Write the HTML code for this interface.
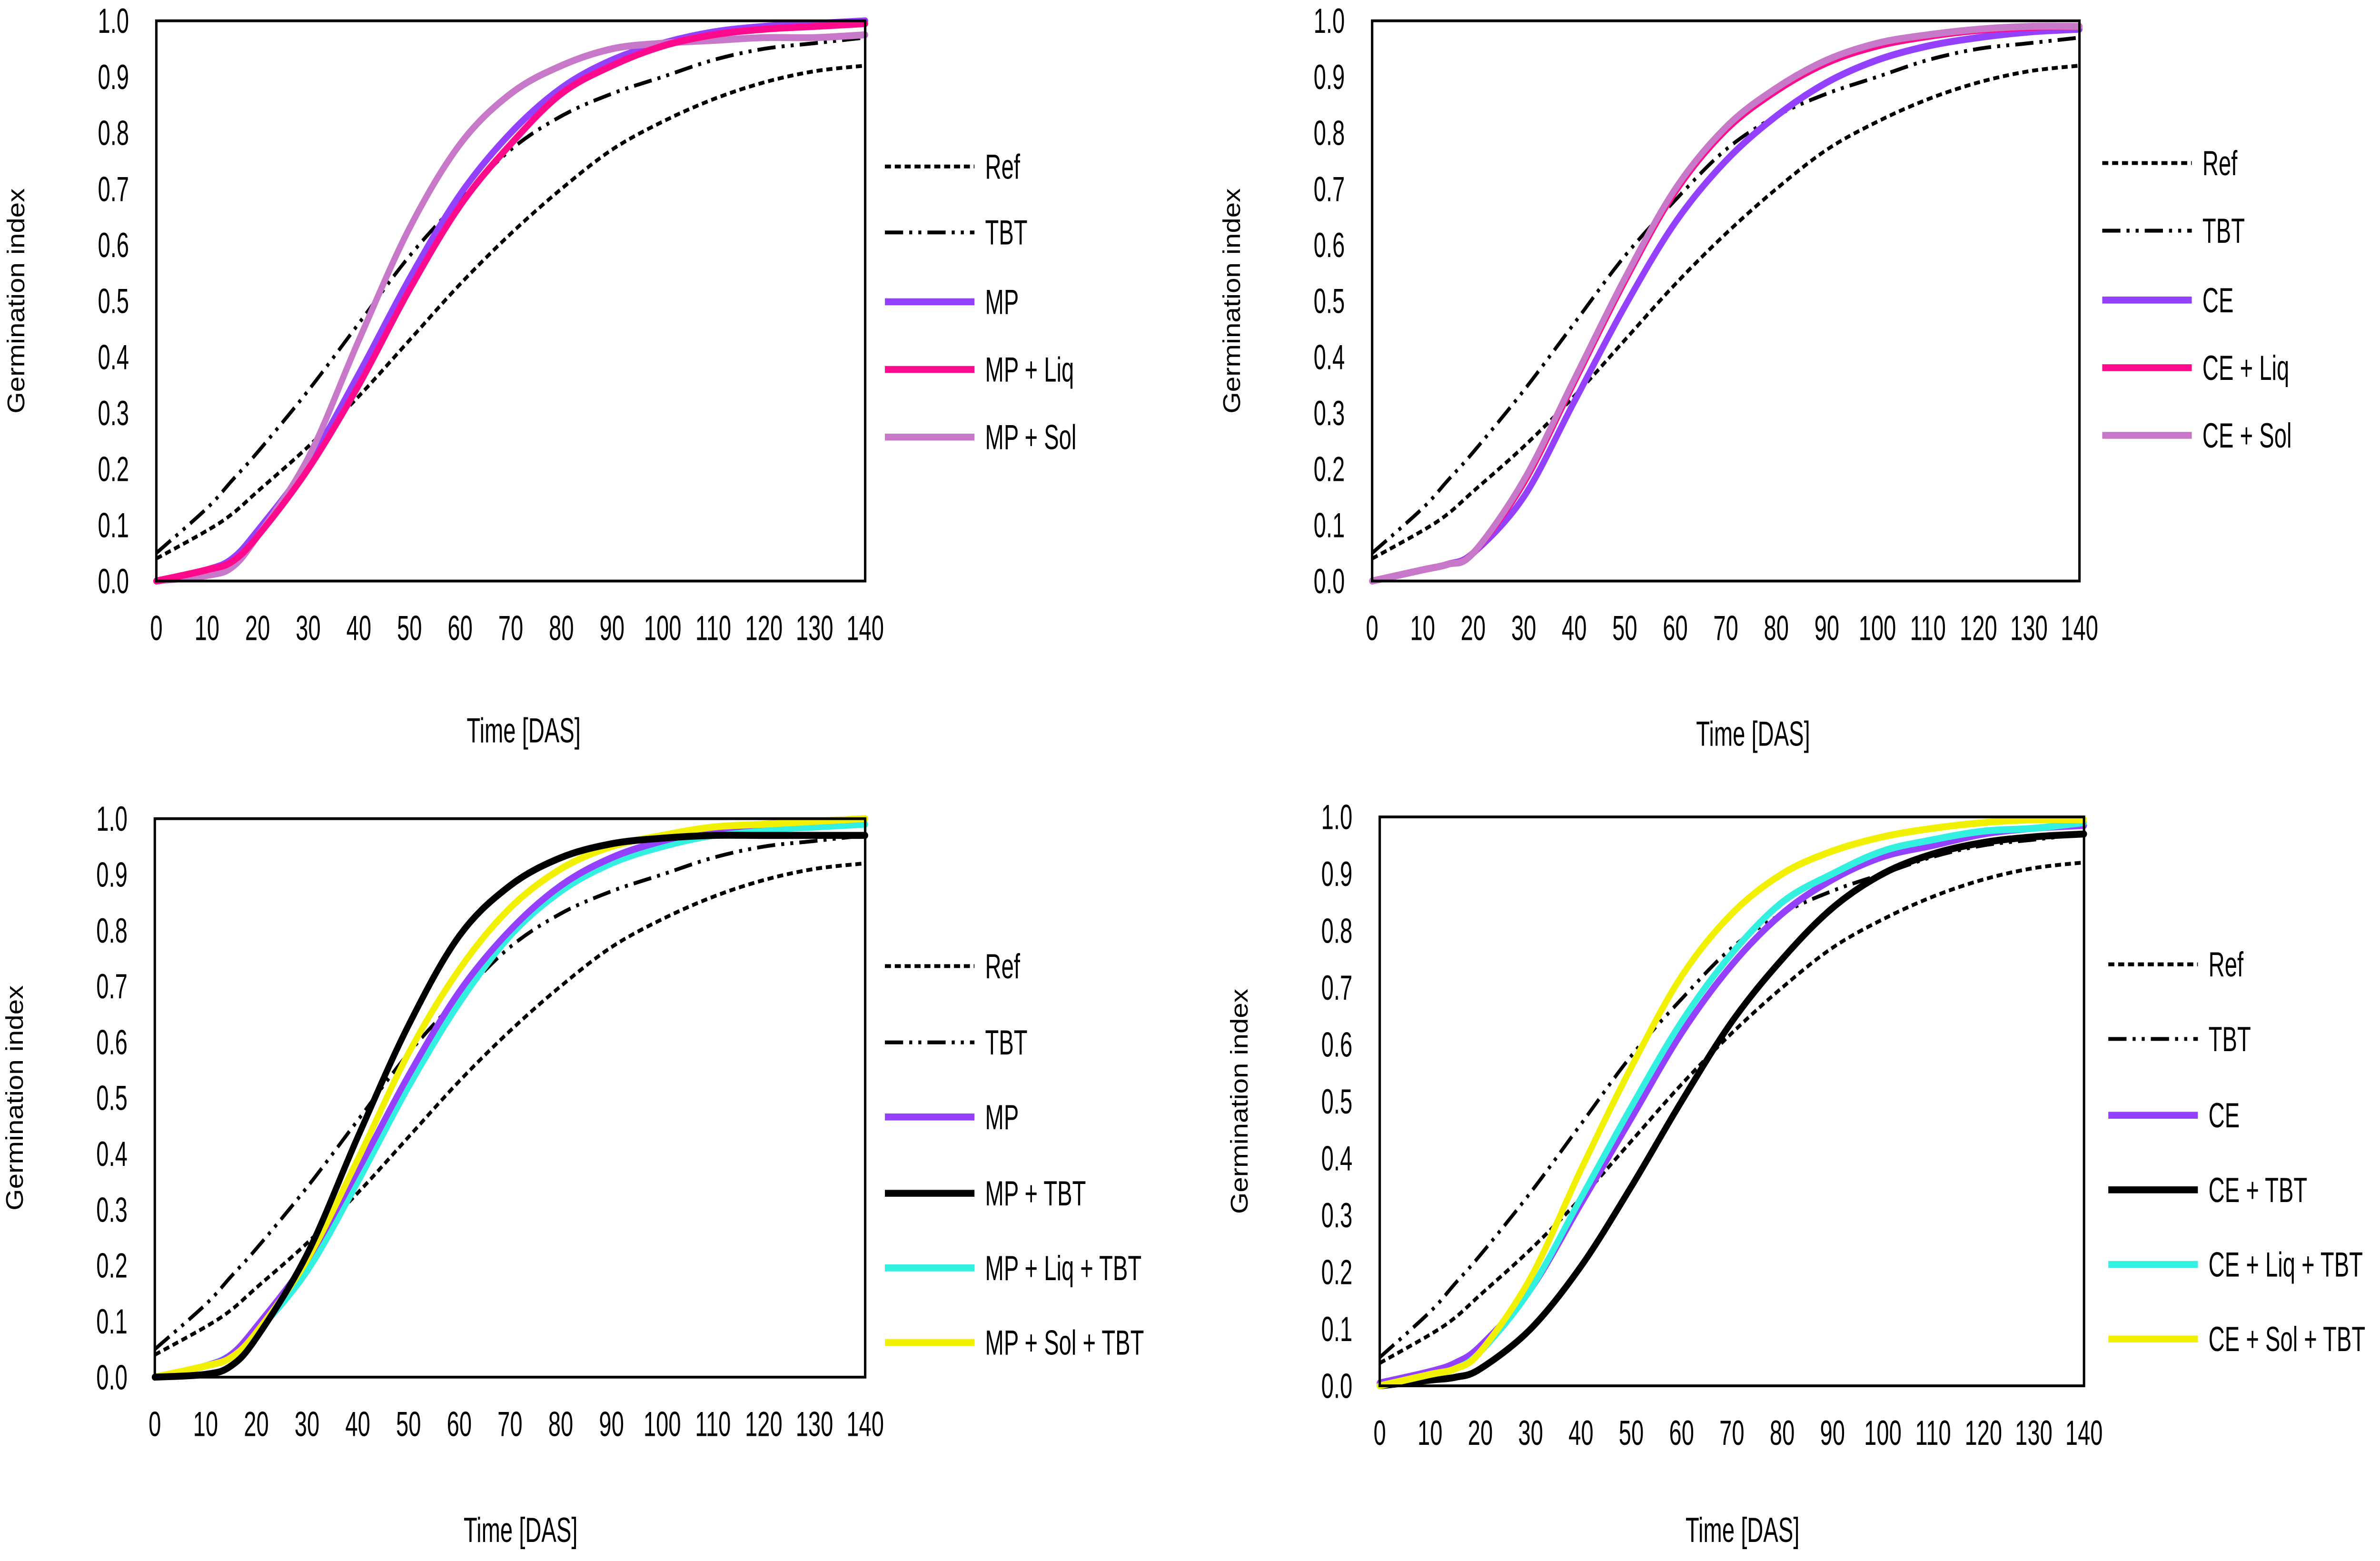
<!DOCTYPE html>
<html><head><meta charset="utf-8"><style>
html,body{margin:0;padding:0;background:#fff;width:100%;height:100%;overflow:hidden;}
svg{display:block;position:absolute;left:0;top:0;width:100vw;height:100vh;}
text{font-family:"Liberation Sans Narrow","Liberation Sans",sans-serif;fill:#000;}
</style></head><body>
<svg id="fig" viewBox="0 0 1568 900" preserveAspectRatio="none" xmlns="http://www.w3.org/2000/svg"></svg>
<script>
const days = [0,10,15,20,30,40,50,60,70,80,90,100,110,120,130,140];
const xTicks = [0,10,20,30,40,50,60,70,80,90,100,110,120,130,140];
const yTicks = [0,0.1,0.2,0.3,0.4,0.5,0.6,0.7,0.8,0.9,1.0];
const refVals = [0.04,0.09,0.12,0.16,0.24,0.33,0.43,0.53,0.62,0.70,0.77,0.82,0.86,0.89,0.91,0.92];
const tbtVals = [0.05,0.13,0.18,0.23,0.34,0.46,0.58,0.68,0.77,0.83,0.87,0.90,0.93,0.95,0.96,0.97];
const mpVals = [0,0.02,0.04,0.09,0.21,0.37,0.54,0.69,0.80,0.88,0.93,0.96,0.98,0.99,0.995,1.0];
const mpLiqVals = [0,0.02,0.035,0.08,0.20,0.35,0.52,0.67,0.78,0.87,0.92,0.955,0.975,0.985,0.99,0.995];
const mpSolVals = [0,0.01,0.025,0.08,0.22,0.43,0.63,0.78,0.87,0.92,0.95,0.96,0.965,0.97,0.97,0.975];
const ceVals = [0,0.02,0.03,0.05,0.15,0.32,0.49,0.64,0.75,0.83,0.89,0.93,0.955,0.97,0.98,0.985];
const ceLiqVals = [0,0.02,0.03,0.05,0.175,0.355,0.535,0.695,0.805,0.875,0.925,0.955,0.972,0.983,0.988,0.99];
const ceSolVals = [0,0.02,0.03,0.05,0.18,0.36,0.54,0.70,0.81,0.88,0.93,0.96,0.975,0.985,0.99,0.99];
const mpTbtVals = [0,0.005,0.02,0.07,0.22,0.43,0.63,0.79,0.88,0.93,0.955,0.965,0.97,0.97,0.97,0.97];
const mpLiqTbtVals = [0,0.02,0.04,0.08,0.19,0.35,0.52,0.67,0.79,0.87,0.92,0.95,0.97,0.98,0.985,0.99];
const mpSolTbtVals = [0,0.02,0.035,0.08,0.21,0.39,0.58,0.73,0.84,0.91,0.95,0.97,0.985,0.99,0.995,1.0];
const ce2Vals = [0.005,0.025,0.04,0.07,0.17,0.32,0.47,0.62,0.74,0.83,0.89,0.93,0.95,0.97,0.98,0.985];
const ceTbtVals = [0,0.01,0.015,0.03,0.10,0.21,0.35,0.50,0.64,0.75,0.84,0.90,0.935,0.955,0.965,0.97];
const ceLiqTbtVals = [0,0.02,0.03,0.06,0.17,0.33,0.49,0.64,0.76,0.85,0.90,0.94,0.96,0.975,0.98,0.99];
const ceSolTbtVals = [0,0.02,0.03,0.06,0.19,0.38,0.56,0.72,0.83,0.90,0.94,0.965,0.98,0.99,0.995,0.995];

const ST = {
 ref:{stroke:"#000",w:2.2,dash:"4,2.5"},
 tbt:{stroke:"#000",w:2.2,dash:"12,4,2,4,2,4"},
 purple:{stroke:"#9440ff",w:4},
 pink:{stroke:"#ff0a8c",w:4},
 orchid:{stroke:"#c878c8",w:4},
 black:{stroke:"#000",w:4},
 cyan:{stroke:"#33f0e0",w:4},
 yellow:{stroke:"#f2f200",w:4}
};
const panels = [
 {id:"top-left",x0:103,x1:570,y0:12,y1:335,lgX:583,title:[345,421],
  series:[["Ref",refVals,"ref"],["TBT",tbtVals,"tbt"],["MP",mpVals,"purple"],["MP + Liq",mpLiqVals,"pink"],["MP + Sol",mpSolVals,"orchid"]],
  draw:[0,1,2,4,3], lgY:[96,134,174,213,252]},
 {id:"top-right",x0:904,x1:1370,y0:12,y1:335,lgX:1385,title:[1155,423],
  series:[["Ref",refVals,"ref"],["TBT",tbtVals,"tbt"],["CE",ceVals,"purple"],["CE + Liq",ceLiqVals,"pink"],["CE + Sol",ceSolVals,"orchid"]],
  draw:[0,1,2,3,4], lgY:[94,133,173,212,251]},
 {id:"bottom-left",x0:102,x1:570,y0:472,y1:794,lgX:583,title:[343,882],
  series:[["Ref",refVals,"ref"],["TBT",tbtVals,"tbt"],["MP",mpVals,"purple"],["MP + TBT",mpTbtVals,"black"],["MP + Liq + TBT",mpLiqTbtVals,"cyan"],["MP + Sol + TBT",mpSolTbtVals,"yellow"]],
  draw:[0,1,4,2,5,3], lgY:[557,601,644,688,731,774]},
 {id:"bottom-right",x0:909,x1:1373,y0:471,y1:799,lgX:1389,title:[1148,882],
  series:[["Ref",refVals,"ref"],["TBT",tbtVals,"tbt"],["CE",ce2Vals,"purple"],["CE + TBT",ceTbtVals,"black"],["CE + Liq + TBT",ceLiqTbtVals,"cyan"],["CE + Sol + TBT",ceSolTbtVals,"yellow"]],
  draw:[0,1,3,2,4,5], lgY:[556,599,643,686,729,772]}
];
const NS="http://www.w3.org/2000/svg";
const svg=document.getElementById('fig');
function mk(tag,attrs,parent){const e=document.createElementNS(NS,tag);for(const k in attrs)e.setAttribute(k,attrs[k]);(parent||svg).appendChild(e);return e;}
function ntext(x,y,anchor,size,str,parent){
 const t=mk('text',{x:0,y:0,"text-anchor":anchor,"font-size":size,transform:`translate(${x} ${y}) scale(0.74 1)`},parent);
 t.textContent=str;return t;}
function smooth(pts){let d=`M${pts[0][0]},${pts[0][1]}`;for(let i=0;i<pts.length-1;i++){const p0=pts[Math.max(0,i-1)],p1=pts[i],p2=pts[i+1],p3=pts[Math.min(pts.length-1,i+2)];
 const c1=[p1[0]+(p2[0]-p0[0])/6,p1[1]+(p2[1]-p0[1])/6],c2=[p2[0]-(p3[0]-p1[0])/6,p2[1]-(p3[1]-p1[1])/6];
 d+=` C${c1[0]},${c1[1]} ${c2[0]},${c2[1]} ${p2[0]},${p2[1]}`;}return d;}
panels.forEach(p=>{
 const g=mk('g',{});
 
 
 const sx=v=>p.x0+(v/140)*(p.x1-p.x0);
 const sy=v=>p.y1-v*(p.y1-p.y0);
 p.draw.forEach(i=>{const s=p.series[i];const st=ST[s[2]];
  const pts=days.map((d,k)=>[sx(d),sy(s[1][k])]);
  const a={d:smooth(pts),fill:"none",stroke:st.stroke,"stroke-width":st.w,"stroke-linecap":"round"};
  if(st.dash){a["stroke-dasharray"]=st.dash;a["stroke-linecap"]="butt";}
  const path=mk('path',a,g);
  
  
 });
 const fr=mk('rect',{x:p.x0,y:p.y0,width:p.x1-p.x0,height:p.y1-p.y0,fill:"none",stroke:"#000","stroke-width":1.6},g);
 
 
 yTicks.forEach(v=>{const t=ntext(p.x0-18,sy(v)+7,"end",20,v.toFixed(1),g);
  
  });
 xTicks.forEach(v=>{const t=ntext(sx(v),p.y1+34,"middle",20,String(v),g);
  
  });
 const xt=ntext(p.title[0],p.title[1]+7,"middle",20,"Time [DAS]",g);
 
 
 const cy=(p.y0+p.y1)/2, cx=p.x0-87;
 const yt=mk('text',{x:cx,y:cy,"text-anchor":"middle","font-size":16,"font-family":"Liberation Sans, sans-serif",transform:`rotate(-90 ${cx} ${cy})`},g);yt.textContent="Germination index";
 
 
 p.series.forEach((s,i)=>{const st=ST[s[2]];const y=p.lgY[i];
  const a={x1:p.lgX,x2:p.lgX+59,y1:y,y2:y,stroke:st.stroke,"stroke-width":st.w};
  if(st.dash)a["stroke-dasharray"]=st.dash;
  const ln=mk('line',a,g);
  
  
  const t=ntext(p.lgX+66,y+7,"start",20,s[0],g);
  
  
 });
});
</script>
</body></html>
